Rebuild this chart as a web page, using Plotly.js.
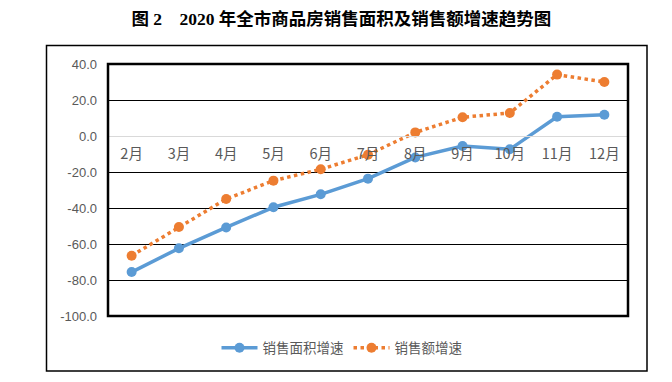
<!DOCTYPE html>
<html>
<head>
<meta charset="utf-8">
<script src="https://cdn.plot.ly/plotly-3.0.1.min.js"></script>
<style>html,body{margin:0;padding:0;background:#fff;}#chart{width:672px;height:382px;}</style>
</head>
<body>
<div id="chart"></div>
<script>
const months = ['2月','3月','4月','5月','6月','7月','8月','9月','10月','11月','12月'];
const areaGrowth = [-75.6, -62.4, -50.8, -39.6, -32.4, -23.7, -11.9, -5.6, -7.4, 10.7, 11.8];
const salesGrowth = [-66.5, -50.6, -35.0, -24.8, -18.5, -10.4, 2.0, 10.4, 12.8, 34.1, 30.0];
const yTickVals = [40, 20, 0, -20, -40, -60, -80, -100];
const yTickText = ['40.0','20.0','0.0','-20.0','-40.0','-60.0','-80.0','-100.0'];
const seriesNames = ['销售面积增速', '销售额增速'];
const titleText = '图 2　2020 年全市商品房销售面积及销售额增速趋势图';

const sansCJK = '"Microsoft YaHei", "Noto Sans CJK SC", sans-serif';
const data = [
  {x: months, y: areaGrowth, name: seriesNames[0], type: 'scatter', mode: 'lines+markers',
   line: {color: '#5B9BD5', width: 3.5}, marker: {color: '#5B9BD5', size: 10}},
  {x: months, y: salesGrowth, name: seriesNames[1], type: 'scatter', mode: 'lines+markers',
   line: {color: '#ED7D31', width: 3.5, dash: 'dot'}, marker: {color: '#ED7D31', size: 10}}
];
const layout = {
  width: 672, height: 382,
  margin: {l: 108, r: 44, t: 64, b: 66},
  paper_bgcolor: '#fff', plot_bgcolor: '#fff',
  title: {text: '<b>' + titleText + '</b>', x: 0.508, xanchor: 'center', y: 0.95, yanchor: 'middle',
          font: {family: '"Liberation Serif", "Noto Sans CJK SC", serif', size: 17.5, color: '#000'}},
  xaxis: {type: 'category', anchor: 'free', position: 100/140, showgrid: false,
          showline: true, linecolor: '#d9d9d9', linewidth: 1, ticks: '',
          tickfont: {family: sansCJK, size: 14.5, color: '#595959'}, ticklabelstandoff: 5,
          range: [-0.5, 10.5], fixedrange: true},
  yaxis: {range: [-100, 40], tickvals: yTickVals, ticktext: yTickText, showgrid: true,
          gridcolor: '#000', gridwidth: 1, zeroline: true, zerolinecolor: '#d9d9d9', zerolinewidth: 1,
          tickfont: {family: '"Liberation Sans", "Noto Sans", sans-serif', size: 13, color: '#595959'},
          ticks: '', ticklabelstandoff: 10, fixedrange: true},
  showlegend: true,
  legend: {orientation: 'h', x: 0.45, xanchor: 'center', y: -0.127, yanchor: 'middle',
           font: {family: sansCJK, size: 13.5, color: '#595959'}, itemwidth: 36, tracegroupgap: 0},
  shapes: [
    {type: 'rect', xref: 'paper', yref: 'paper', x0: 0, x1: 1, y0: 0, y1: 1,
     line: {color: '#000', width: 2.5}, fillcolor: 'rgba(0,0,0,0)', layer: 'above'},
    {type: 'rect', xref: 'paper', yref: 'paper', x0: (46.5-108)/520, x1: (647-108)/520,
     y0: (316-371)/252, y1: (316-45.5)/252, line: {color: '#000', width: 1.5}, fillcolor: 'rgba(0,0,0,0)'}
  ]
};
Plotly.newPlot('chart', data, layout, {staticPlot: true});
</script>
</body>
</html>
